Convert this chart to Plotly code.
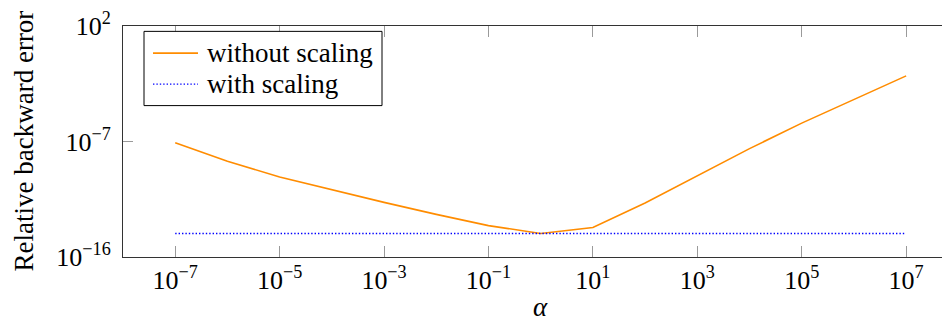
import plotly.graph_objects as go

# ---- data ----
alpha = [1e-7, 1e-6, 1e-5, 1e-4, 1e-3, 1e-2, 1e-1, 1e0,
         1e1, 1e2, 1e3, 1e4, 1e5, 1e6, 1e7]
without_scaling = [8.1e-8, 2.9e-9, 1.7e-10, 1.7e-11, 1.8e-12, 2.1e-13, 2.8e-14, 6.8e-15,
                   2.0e-14, 1.6e-12, 2.1e-10, 2.8e-8, 2.7e-6, 1.8e-4, 1.3e-2]
with_scaling = [6.8e-15] * 15

series_names = ["without scaling", "with scaling"]
series_colors = ["#ff8c00", "#0000ff"]

x_tickvals = [1e-7, 1e-5, 1e-3, 1e-1, 1e1, 1e3, 1e5, 1e7]
x_ticktext = ["10<sup>−7</sup>", "10<sup>−5</sup>", "10<sup>−3</sup>", "10<sup>−1</sup>",
              "10<sup>1</sup>", "10<sup>3</sup>", "10<sup>5</sup>", "10<sup>7</sup>"]
y_tickvals = [1e-16, 1e-7, 1e2]
y_ticktext = ["10<sup>−16</sup>", "10<sup>−7</sup>", "10<sup>2</sup>"]

FONT = "Liberation Serif, Times New Roman, serif"
FS = 27

# page body has an 8px default margin -> figure is 942x314 placed at (8, 8)
OFF = 8
W, H = 950 - OFF, 322 - OFF
PLOT_L, PLOT_T, PLOT_B = 123, 20.5, 257          # screen pixels of the frame
L = PLOT_L - OFF
T = PLOT_T - OFF
B = H - (PLOT_B - OFF)
plot_w = W - L
plot_h = PLOT_B - PLOT_T


def px(x):
    return (x - PLOT_L) / plot_w


def py(y):
    return (PLOT_B - y) / plot_h


dashes = ["solid", "1.4px,2px"]
widths = [1.6, 1.4]

fig = go.Figure()
for name, ys, col, d, w in zip(series_names, [without_scaling, with_scaling],
                               series_colors, dashes, widths):
    fig.add_trace(go.Scatter(x=alpha, y=ys, mode="lines", name=name, showlegend=False,
                             line=dict(color=col, width=w, dash=d)))

fig.update_layout(
    width=W, height=H,
    margin=dict(l=L, r=0, t=T, b=B, pad=0),
    paper_bgcolor="white", plot_bgcolor="white",
    font=dict(family=FONT, size=FS, color="black"),
    showlegend=False,
)

fig.update_xaxes(type="log", range=[-8, -8 + plot_w / 52.21],
                 tickvals=x_tickvals, ticktext=x_ticktext,
                 ticks="inside", ticklen=11, tickwidth=1, tickcolor="#9a9a9a",
                 showline=True, linecolor="#333333", linewidth=1, mirror="ticks",
                 showgrid=False, zeroline=False, ticklabeloverflow="allow",
                 tickfont=dict(family=FONT, size=26))
fig.update_yaxes(type="log", range=[-16, 2],
                 tickvals=y_tickvals, ticktext=y_ticktext,
                 ticks="inside", ticklen=10, tickwidth=1, tickcolor="#9a9a9a",
                 showline=True, linecolor="#333333", linewidth=1, mirror=False,
                 showgrid=False, zeroline=False, ticklabelstandoff=6,
                 ticklabeloverflow="allow",
                 tickfont=dict(family=FONT, size=26))

# right-side tick stub at 1e-7 (frame's right edge lies just outside the window)
fig.add_shape(type="line", xref="paper", yref="paper",
              x0=1 - 3 / plot_w, x1=1, y0=0.5, y1=0.5,
              line=dict(color="#9a9a9a", width=1))

# legend box drawn by hand
fig.add_shape(type="rect", xref="paper", yref="paper",
              x0=px(144), x1=px(382), y0=py(102), y1=py(26),
              line=dict(color="black", width=1), fillcolor="white", layer="above")
for i, (name, col, d, w) in enumerate(zip(series_names, series_colors, dashes, widths)):
    yrow = [48.3, 80][i]
    fig.add_shape(type="line", xref="paper", yref="paper",
                  x0=px(153), x1=px(198), y0=py(yrow), y1=py(yrow),
                  line=dict(color=col, width=w, dash=d), layer="above")
    fig.add_annotation(text=name, xref="paper", yref="paper",
                       x=px(205), y=py(yrow), showarrow=False,
                       xanchor="left", yanchor="middle",
                       font=dict(family=FONT, size=FS, color="black"))

# axis titles
fig.add_annotation(text="<i>α</i>", xref="paper", yref="paper",
                   x=px(540), y=py(308),
                   showarrow=False, xanchor="center", yanchor="middle",
                   font=dict(family=FONT, size=FS, color="black"))
fig.add_annotation(text="Relative backward error", xref="paper", yref="paper",
                   x=px(23), y=0.5, textangle=-90,
                   showarrow=False, xanchor="center", yanchor="middle",
                   font=dict(family=FONT, size=FS, color="black"))

fig.write_html("out.html")
